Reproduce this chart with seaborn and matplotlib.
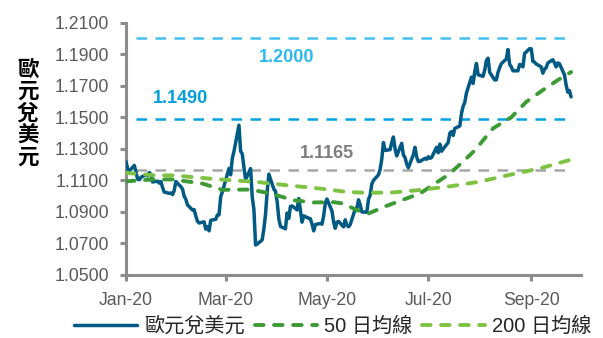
import matplotlib
matplotlib.use("Agg")
import matplotlib.pyplot as plt
import matplotlib.dates as mdates
import numpy as np
import pandas as pd
import seaborn as sns

# EUR/USD daily closes, Jan 1 - Sep 25 2020 (business days), one list per month
jan = [1.1218, 1.1172, 1.1160, 1.1195, 1.1152, 1.1108, 1.1104, 1.1120, 1.1135, 1.1128,
       1.1150, 1.1136, 1.1090, 1.1095, 1.1083, 1.1093, 1.1055, 1.1026, 1.1018, 1.1020,
       1.1010, 1.1035, 1.1093]
feb = [1.1060, 1.1045, 1.1000, 1.0980, 1.0945, 1.0912, 1.0915, 1.0875, 1.0841, 1.0830,
       1.0837, 1.0791, 1.0806, 1.0780, 1.0847, 1.0853, 1.0880, 1.0881, 1.0996, 1.1027]
mar = [1.1138, 1.1176, 1.1135, 1.1240, 1.1284, 1.1450, 1.1285, 1.1268, 1.1183, 1.1105,
       1.1175, 1.0995, 1.0916, 1.0690, 1.0696, 1.0723, 1.0793, 1.0885, 1.1030, 1.1140,
       1.1045, 1.1031]
apr = [1.0966, 1.0857, 1.0808, 1.0793, 1.0893, 1.0858, 1.0935, 1.0938, 1.0913, 1.0985,
       1.0910, 1.0835, 1.0875, 1.0860, 1.0857, 1.0823, 1.0780, 1.0820, 1.0827, 1.0822,
       1.0875, 1.0955]
may = [1.0982, 1.0906, 1.0836, 1.0796, 1.0835, 1.0840, 1.0805, 1.0850, 1.0815, 1.0806,
       1.0820, 1.0918, 1.0925, 1.0977, 1.0945, 1.0900, 1.0898, 1.0980, 1.1005, 1.1077,
       1.1100]
jun = [1.1135, 1.1170, 1.1235, 1.1340, 1.1290, 1.1295, 1.1340, 1.1375, 1.1300, 1.1255,
       1.1335, 1.1262, 1.1245, 1.1205, 1.1180, 1.1262, 1.1310, 1.1250, 1.1220, 1.1220,
       1.1240, 1.1234]
jul = [1.1250, 1.1240, 1.1245, 1.1310, 1.1275, 1.1330, 1.1285, 1.1300, 1.1340, 1.1400,
       1.1410, 1.1385, 1.1430, 1.1445, 1.1525, 1.1570, 1.1595, 1.1655, 1.1755, 1.1715,
       1.1790, 1.1842, 1.1770]
aug = [1.1760, 1.1800, 1.1860, 1.1875, 1.1785, 1.1737, 1.1738, 1.1785, 1.1815, 1.1840,
       1.1870, 1.1930, 1.1835, 1.1820, 1.1795, 1.1795, 1.1835, 1.1830, 1.1820, 1.1905,
       1.1935]
sep = [1.1935, 1.1855, 1.1850, 1.1838, 1.1820, 1.1780, 1.1805, 1.1815, 1.1845, 1.1865,
       1.1845, 1.1820, 1.1845, 1.1840, 1.1770, 1.1705, 1.1660, 1.1670, 1.1630]

# 50-day moving average
ma50_dates = ["2020-01-01", "2020-01-17", "2020-01-29", "2020-02-16", "2020-02-28",
              "2020-03-16", "2020-03-28", "2020-04-11", "2020-04-23", "2020-05-05",
              "2020-05-11", "2020-05-19", "2020-05-26", "2020-06-05", "2020-06-26",
              "2020-07-13", "2020-07-21", "2020-07-29", "2020-08-09", "2020-08-20",
              "2020-08-29", "2020-09-08", "2020-09-17", "2020-09-25"]
ma50 = [1.1094, 1.1106, 1.1106, 1.1080, 1.1040, 1.1042, 1.1017, 1.0974, 1.0960, 1.0962,
        1.0953, 1.0911, 1.0890, 1.0935, 1.1017, 1.1135, 1.1210, 1.1290, 1.1430, 1.1500,
        1.1598, 1.1673, 1.1736, 1.1787]

# 200-day moving average
ma200_dates = ["2020-01-01", "2020-01-17", "2020-01-30", "2020-02-24", "2020-03-20",
               "2020-04-07", "2020-04-27", "2020-05-13", "2020-05-25", "2020-06-10",
               "2020-06-25", "2020-07-14", "2020-08-01", "2020-08-19", "2020-09-07",
               "2020-09-25"]
ma200 = [1.1148, 1.1133, 1.1131, 1.1108, 1.1090, 1.1069, 1.1048, 1.1027, 1.1021, 1.1024,
         1.1038, 1.1062, 1.1092, 1.1135, 1.1178, 1.1232]

# horizontal reference levels
ref_levels = [1.2000, 1.1490, 1.1165]
ref_labels = ["1.2000", "1.1490", "1.1165"]

series_labels = ["歐元兌美元", "50 日均線", "200 日均線"]
y_label = "歐元兌美元"
y_ticks = [1.05, 1.07, 1.09, 1.11, 1.13, 1.15, 1.17, 1.19, 1.21]

spot = jan + feb + mar + apr + may + jun + jul + aug + sep
spot_df = pd.DataFrame({"date": pd.bdate_range("2020-01-01", "2020-09-25"), "rate": spot})
ma50_df = pd.DataFrame({"date": pd.to_datetime(ma50_dates), "rate": ma50})
ma200_df = pd.DataFrame({"date": pd.to_datetime(ma200_dates), "rate": ma200})

sns.set_style("ticks")
plt.rcParams["font.family"] = ["Liberation Sans", "Noto Sans CJK TC", "DejaVu Sans"]

fig = plt.figure(figsize=(6.03, 3.38), dpi=100)
ax = fig.add_axes([0.209, 0.1864, 0.7546, 0.7464])

# reference lines and their labels
ref_colors = ["#45C0F2", "#00A2E0", "#A6A6A6"]
text_colors = ["#2EB8F0", "#009FDC", "#7F7F7F"]
text_pos = [("2020-04-07", 1.1882), ("2020-02-03", 1.1622), ("2020-05-01", 1.1273)]
x0, x1 = pd.Timestamp("2020-01-07"), pd.Timestamp("2020-09-24")
for lvl, lab, c, tc, (tx, ty) in zip(ref_levels, ref_labels, ref_colors, text_colors, text_pos):
    ref = pd.DataFrame({"date": [x0, x1], "rate": [lvl, lvl]})
    sns.lineplot(data=ref, x="date", y="rate", ax=ax, color=c, linewidth=1.8, zorder=1)
    ax.lines[-1].set_dashes([4.2, 3.4])
    ax.text(pd.Timestamp(tx), ty, lab, ha="center", va="center", fontsize=13,
            fontweight="bold", color=tc)

# spot rate
sns.lineplot(data=spot_df, x="date", y="rate", ax=ax, color="#005A84",
             linewidth=2.5, zorder=3)
spot_line = ax.lines[-1]
spot_line.set_solid_joinstyle("round")

# moving averages
sns.lineplot(data=ma50_df, x="date", y="rate", ax=ax, color="#3D9B35",
             linewidth=2.8, zorder=4)
ma50_line = ax.lines[-1]
ma50_line.set_dashes([2.2, 2.7])
ma50_line.set_dash_capstyle("round")

sns.lineplot(data=ma200_df, x="date", y="rate", ax=ax, color="#7DC242",
             linewidth=2.8, zorder=4)
ma200_line = ax.lines[-1]
ma200_line.set_dashes([2.2, 2.7])
ma200_line.set_dash_capstyle("round")

# axes
ax.set_xlim(pd.Timestamp("2020-01-01"), pd.Timestamp("2020-10-01"))
ax.set_ylim(1.05, 1.21)
ax.set_yticks(y_ticks)
ax.yaxis.set_major_formatter(matplotlib.ticker.FormatStrFormatter("%.4f"))
ax.set_xticks(pd.to_datetime(["2020-01-01", "2020-03-01", "2020-05-01",
                              "2020-07-01", "2020-09-01"]))
ax.xaxis.set_major_formatter(mdates.DateFormatter("%b-%y"))
ax.set_xlabel("")
ax.set_ylabel("")
for side in ["top", "right"]:
    ax.spines[side].set_visible(False)
for side in ["left", "bottom"]:
    ax.spines[side].set_color("#8C8C8C")
    ax.spines[side].set_linewidth(2.2)
ax.tick_params(axis="both", direction="out", length=4, width=2.2, color="#8C8C8C",
               labelsize=12.7, labelcolor="#595959", pad=8)

fig.text(0.046, 0.665, "\n".join(y_label), ha="center", va="center",
         fontsize=15.5, fontweight="bold", color="#000000", linespacing=1.05,
         family=["Noto Sans CJK TC", "DejaVu Sans"])

leg = fig.legend([spot_line, ma50_line, ma200_line], series_labels, loc="center",
                 bbox_to_anchor=(0.552, 0.036), ncol=3, frameon=False,
                 handlelength=3.1, handletextpad=0.35, columnspacing=0.5,
                 borderpad=0.0, borderaxespad=0.0,
                 prop={"family": ["Liberation Sans", "Noto Sans CJK TC"], "size": 14.5})

fig.savefig("out.png", dpi=100)
